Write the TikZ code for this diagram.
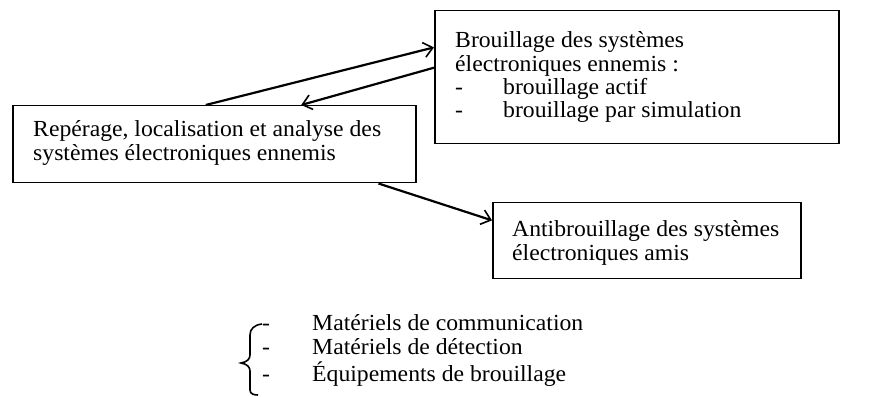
\documentclass[tikz,border=0pt]{standalone}
\usepackage{fontspec}
\setmainfont{Liberation Serif}[FakeStretch=1.03]
\usetikzlibrary{arrows.meta,calc}
\begin{document}
\begin{tikzpicture}[x=1pt,y=1pt,
  box/.style={draw, line width=1.5pt, inner sep=0pt, anchor=north west},
  txt/.style={inner sep=0pt, anchor=base west, font=\fontsize{23}{23.3}\selectfont},
  conn/.style={line width=2.2pt, -{Straight Barb[length=9pt,width=15pt,line width=1.6pt]}}]
\useasboundingbox (0,0) rectangle (885,396);

\node[box, minimum width=403pt, minimum height=77pt] (A) at (12,291) {};
\node[box, minimum width=404pt, minimum height=133pt] (B) at (434,386) {};
\node[box, minimum width=308pt, minimum height=76pt] (C) at (492,194) {};

\node[txt] (tA) at (33,259) {\begin{tabular}[t]{@{}l@{}}Repérage, localisation et analyse des\\systèmes électroniques ennemis\end{tabular}};
\node[txt] (tB) at (455,348) {\begin{tabular}[t]{@{}l@{}}Brouillage des systèmes\\électroniques ennemis :\\\makebox[48pt][l]{-}brouillage actif\\\makebox[48pt][l]{-}brouillage par simulation\end{tabular}};
\node[txt] (tC) at (512,159) {\begin{tabular}[t]{@{}l@{}}Antibrouillage des systèmes\\électroniques amis\end{tabular}};
\node[txt] (tL) at (262,65) {\begin{tabular}[t]{@{}l@{}}\makebox[50pt][l]{-}Matériels de communication\\\makebox[50pt][l]{-}Matériels de détection\\\makebox[50pt][l]{-}Équipements de brouillage\end{tabular}};

\draw[conn] ($(A.north west)!0.479!(A.north east)$) -- ($(B.north west)!0.278!(B.south west)$);
\draw[conn] ($(B.north west)!0.429!(B.south west)$) -- ($(A.north west)!0.715!(A.north east)$);
\draw[conn] ($(A.south west)!0.906!(A.south east)$) -- ($(C.north west)!0.237!(C.south west)$);

\draw[line width=1.6pt] (262,72) .. controls (254,71) and (250,67) .. (250,61) -- (250,41) .. controls (250,37) and (247,34) .. (241,33) .. controls (247,32) and (250,29) .. (250,25) -- (250,6) .. controls (250,2) and (254,1) .. (258,1);
\end{tikzpicture}
\end{document}
